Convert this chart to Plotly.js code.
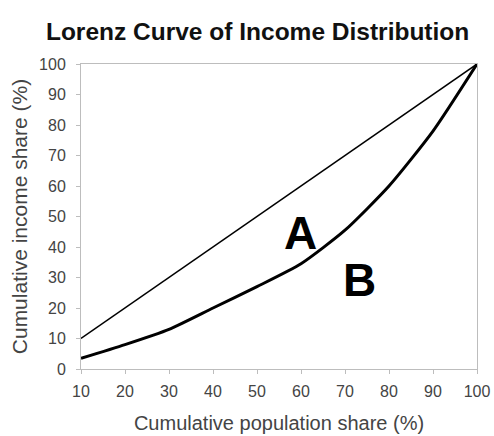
<!DOCTYPE html>
<html>
<head>
<meta charset="utf-8">
<script src="https://cdn.plot.ly/plotly-3.0.1.min.js"></script>
<style>html,body{margin:0;padding:0;background:#fff;}#chart{width:494px;height:436px;}</style>
</head>
<body>
<div id="chart"></div>
<script>
const populationShare = [10, 20, 30, 40, 50, 60, 70, 80, 90, 100];
const equalityLine = [10, 20, 30, 40, 50, 60, 70, 80, 90, 100];
const lorenzCurve = [3.5, 8, 13, 20, 27, 34.5, 45.5, 60, 78, 100];
const xTicks = [10, 20, 30, 40, 50, 60, 70, 80, 90, 100];
const yTicks = [0, 10, 20, 30, 40, 50, 60, 70, 80, 90, 100];
const areaLabels = ["A", "B"];
const areaLabelX = [59.8, 73.4];
const areaLabelY = [44.6, 29.2];

const FONT = 'Liberation Sans, Arial, sans-serif';

const traces = [
  {x: populationShare, y: equalityLine, mode: 'lines', line: {color: '#000', width: 1.5}, hoverinfo: 'skip'},
  {x: populationShare, y: lorenzCurve, mode: 'lines', line: {color: '#000', width: 3, shape: 'spline', smoothing: 0.6}, hoverinfo: 'skip'}
];

const annotations = areaLabels.map((t, i) => ({
  x: areaLabelX[i], y: areaLabelY[i], xref: 'x', yref: 'y', text: t, showarrow: false,
  font: {family: FONT, size: 46, color: '#000', weight: 'bold'},
  xanchor: 'center', yanchor: 'middle'
}));

const axisCommon = {
  showgrid: false, zeroline: false, showline: true, linecolor: '#bdbdbd', linewidth: 1,
  mirror: true, ticks: 'outside', ticklen: 4, tickcolor: '#bdbdbd',
  tickfont: {family: FONT, size: 16, color: '#444'}
};

const layout = {
  width: 494, height: 436,
  margin: {l: 81, r: 17, t: 64, b: 67},
  paper_bgcolor: '#fff', plot_bgcolor: '#fff',
  showlegend: false,
  title: {text: '<b>Lorenz Curve of Income Distribution</b>', xref: 'container', x: 0.093, xanchor: 'left', yref: 'container', y: 0.928, yanchor: 'middle',
          font: {family: FONT, size: 24.5, color: '#111'}},
  xaxis: Object.assign({}, axisCommon, {range: [10, 100], tickvals: xTicks, ticklabelstandoff: 4,
    title: {text: 'Cumulative population share (%)', standoff: 16, font: {family: FONT, size: 20, color: '#444'}}}),
  yaxis: Object.assign({}, axisCommon, {range: [0, 100], tickvals: yTicks, ticklabelstandoff: 7,
    title: {text: 'Cumulative income share (%)', standoff: 5, font: {family: FONT, size: 21, color: '#444'}}}),
  annotations: annotations
};

Plotly.newPlot('chart', traces, layout, {displayModeBar: false, staticPlot: true});
</script>
</body>
</html>
